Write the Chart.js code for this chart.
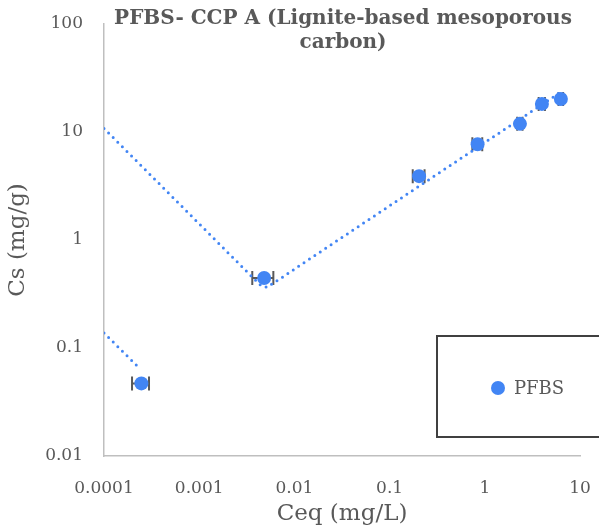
<!DOCTYPE html>
<html>
<head>
<meta charset="utf-8">
<script src="https://cdn.jsdelivr.net/npm/chart.js@4.4.1/dist/chart.umd.min.js"></script>
<style>
html, body { margin: 0; padding: 0; background: #fff; }
#wrap { width: 599px; height: 530px; position: relative; }
</style>
</head>
<body>
<div id="wrap"><canvas id="isothermChart"></canvas></div>
<script>
// PFBS on CCP A - measured points (Ceq with x error, Cs)
const ceq = [0.000247, 0.00481, 0.204, 0.84, 2.34, 3.98, 6.3];
const ceqErr = [0.00005, 0.0012, 0.029, 0.1, 0.15, 0.3, 0.35];
const cs = [0.047, 0.445, 3.9, 7.7, 11.9, 18.2, 20.2];

// dotted trendlines
const trendX = [0.0001, 0.00336, 0.0045, 0.0052, 0.006, 0.0073, 0.0116, 6.3];
const trendY = [10.8, 0.484, 0.375, 0.365, 0.40, 0.445, 0.587, 23.5];
const trend2X = [0.0001, 0.00024];
const trend2Y = [0.138, 0.064];

const xTickLabels = ['0.0001', '0.001', '0.01', '0.1', '1', '10'];
const yTickLabels = ['0.01', '0.1', '1', '10', '100'];
const titleLines = ['PFBS- CCP A (Lignite-based mesoporous', 'carbon)'];
const seriesName = 'PFBS';

const FONT = "'DejaVu Serif', Georgia, serif";
const TEXT = '#595959';
const BLUE = '#4285F4';

const toPoints = (xs, ys) => xs.map((v, i) => ({ x: v, y: ys[i] }));

// Horizontal error bars, drawn under the markers
const errorBarPlugin = {
    id: 'errorBars',
    beforeDatasetsDraw: function(chart) {
        const ctx = chart.ctx;
        const x = chart.scales.x;
        const y = chart.scales.y;
        ctx.save();
        ctx.strokeStyle = TEXT;
        ctx.lineWidth = 2;
        ceq.forEach((v, i) => {
            const py = y.getPixelForValue(cs[i]);
            const x0 = x.getPixelForValue(v - ceqErr[i]);
            const x1 = x.getPixelForValue(v + ceqErr[i]);
            ctx.beginPath();
            ctx.moveTo(x0, py); ctx.lineTo(x1, py);
            ctx.moveTo(x0, py - 7); ctx.lineTo(x0, py + 7);
            ctx.moveTo(x1, py - 7); ctx.lineTo(x1, py + 7);
            ctx.stroke();
        });
        ctx.restore();
    }
};

// Title sits over the top of the plot, as in the original
const titlePlugin = {
    id: 'overlayTitle',
    afterDraw: function(chart) {
        const ctx = chart.ctx;
        const area = chart.chartArea;
        const cx = (area.left + area.right) / 2;
        ctx.save();
        ctx.fillStyle = TEXT;
        ctx.font = 'bold 20px ' + FONT;
        ctx.textAlign = 'center';
        ctx.textBaseline = 'middle';
        titleLines.forEach((line, i) => ctx.fillText(line, cx + 1, 19 + i * 24));
        ctx.restore();
    }
};

// Boxed legend in the lower right
const legendPlugin = {
    id: 'boxLegend',
    afterDraw: function(chart) {
        const ctx = chart.ctx;
        ctx.save();
        ctx.strokeStyle = '#404040';
        ctx.lineWidth = 2;
        ctx.strokeRect(437, 336, 180, 101);
        ctx.fillStyle = BLUE;
        ctx.beginPath();
        ctx.arc(498, 388, 7, 0, Math.PI * 2);
        ctx.fill();
        ctx.fillStyle = TEXT;
        ctx.font = '18px ' + FONT;
        ctx.textAlign = 'left';
        ctx.textBaseline = 'middle';
        ctx.fillText(seriesName, 514, 389);
        ctx.restore();
    }
};

const dotted = {
    borderColor: BLUE,
    borderWidth: 3,
    borderDash: [0, 6.5],
    borderCapStyle: 'round',
    pointRadius: 0,
    showLine: true,
    fill: false
};

const ctx = document.getElementById('isothermChart').getContext('2d');
const chart = new Chart(ctx, {
    type: 'scatter',
    data: {
        datasets: [
            {
                label: seriesName,
                data: toPoints(ceq, cs),
                backgroundColor: BLUE,
                borderColor: BLUE,
                pointRadius: 7,
                pointBorderWidth: 0
            },
            Object.assign({ label: 'trend', data: toPoints(trendX, trendY) }, dotted),
            Object.assign({ label: 'trend2', data: toPoints(trend2X, trend2Y) }, dotted)
        ]
    },
    options: {
        responsive: true,
        maintainAspectRatio: false,
        animation: false,
        layout: {
            padding: { top: 24, right: 19, left: 0, bottom: 0 }
        },
        plugins: {
            legend: { display: false },
            title: { display: false },
            tooltip: { enabled: false }
        },
        scales: {
            x: {
                type: 'logarithmic',
                min: 0.0001,
                max: 10,
                afterBuildTicks: function(scale) {
                    scale.ticks = xTickLabels.map(t => ({ value: parseFloat(t) }));
                },
                afterFit: function(scale) {
                    scale.height = 74;
                    scale.paddingLeft = 0;
                    scale.paddingRight = 0;
                },
                grid: { display: false, drawTicks: false },
                border: { color: '#bfbfbf', width: 1.5 },
                ticks: {
                    color: TEXT,
                    font: { family: FONT, size: 17 },
                    padding: 22,
                    maxRotation: 0,
                    autoSkip: false,
                    callback: (value, index) => xTickLabels[index]
                },
                title: {
                    display: true,
                    text: 'Ceq (mg/L)',
                    color: TEXT,
                    font: { family: FONT, size: 23 },
                    padding: { top: 0, bottom: 2 }
                }
            },
            y: {
                type: 'logarithmic',
                min: 0.01,
                max: 100,
                afterBuildTicks: function(scale) {
                    scale.ticks = yTickLabels.map(t => ({ value: parseFloat(t) }));
                },
                afterFit: function(scale) {
                    scale.width = 104;
                    scale.paddingTop = 0;
                    scale.paddingBottom = 0;
                },
                grid: { display: false, drawTicks: false },
                border: { color: '#bfbfbf', width: 1.5 },
                ticks: {
                    color: TEXT,
                    font: { family: FONT, size: 17 },
                    padding: 21,
                    autoSkip: false,
                    callback: (value, index) => yTickLabels[index]
                },
                title: {
                    display: true,
                    text: 'Cs (mg/g)',
                    color: TEXT,
                    font: { family: FONT, size: 23 },
                    padding: { top: 4, bottom: 0 }
                }
            }
        }
    },
    plugins: [errorBarPlugin, titlePlugin, legendPlugin]
});
</script>
</body>
</html>
